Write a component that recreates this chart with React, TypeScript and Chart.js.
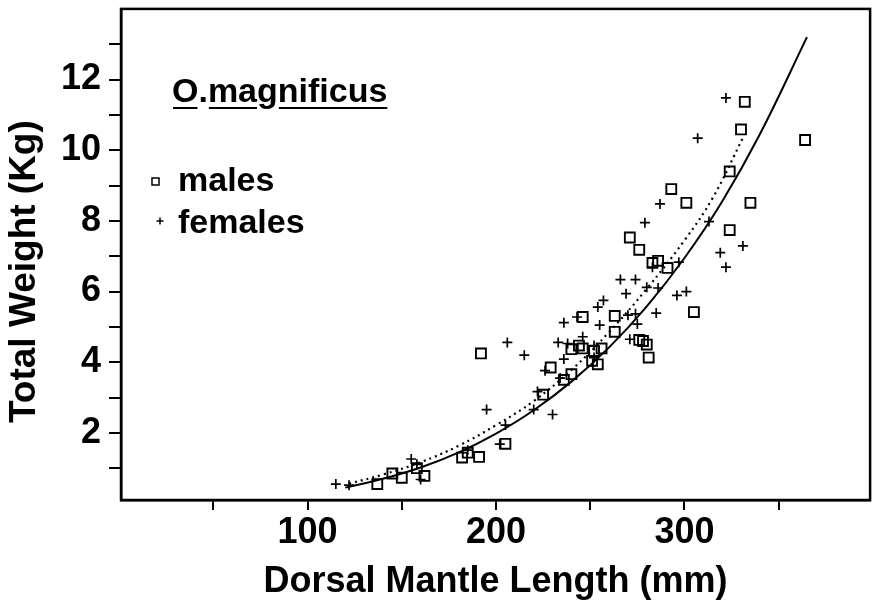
import React, { useEffect, useRef } from 'react';
import { Chart, registerables } from 'chart.js';

Chart.register(...registerables);

// ---- data ----
const maleLength = [137, 145, 150, 158, 162, 182, 185, 191, 205, 192, 225, 236, 229, 240, 240, 244, 246, 252, 256, 251, 254, 246, 263, 263, 276, 278, 280, 281, 271, 276, 283, 286, 291, 293, 301, 305, 324, 324, 330, 332, 335, 364];
const maleWeight = [0.55, 0.85, 0.73, 1.0, 0.78, 1.3, 1.44, 1.32, 1.69, 4.25, 3.08, 3.5, 3.85, 3.66, 4.37, 4.47, 4.39, 4.32, 4.39, 4.04, 3.94, 5.28, 4.86, 5.31, 4.63, 4.6, 4.5, 4.13, 7.53, 7.18, 6.81, 6.87, 6.67, 8.9, 8.51, 5.42, 9.4, 7.74, 10.59, 11.37, 8.51, 10.29];

const femaleLength = [115, 122, 155, 158, 160, 185, 195, 202, 205, 206, 215, 220, 222, 226, 230, 234, 236, 236, 233, 238, 243, 246, 252, 252, 254, 255, 257, 266, 269, 270, 271, 274, 274, 275, 279, 280, 283, 285, 286, 287, 296, 297, 301, 307, 313, 319, 322, 322, 331];
const femaleWeight = [0.55, 0.52, 1.26, 1.11, 0.68, 1.51, 2.66, 1.68, 2.22, 4.56, 4.2, 2.66, 3.17, 3.76, 2.52, 3.55, 4.09, 5.12, 4.56, 4.53, 5.28, 4.72, 4.47, 4.13, 5.56, 5.05, 5.75, 6.34, 5.94, 5.33, 4.65, 6.34, 5.37, 5.08, 7.95, 6.12, 6.69, 5.39, 6.1, 8.48, 5.89, 6.83, 6.0, 10.34, 7.98, 7.1, 6.69, 11.48, 7.29];

// fitted curves
const maleFitLength = [120, 140, 160, 180, 200, 220, 240, 260, 280, 300, 320, 340, 365];
const maleFitWeight = [0.45, 0.7, 1.02, 1.44, 1.98, 2.64, 3.45, 4.42, 5.58, 6.95, 8.55, 10.45, 13.2];

const femaleFitLength = [122, 140, 160, 180, 200, 220, 240, 260, 280, 300, 315, 331];
const femaleFitWeight = [0.56, 0.82, 1.17, 1.63, 2.22, 2.9, 3.78, 4.85, 6.08, 7.45, 8.65, 10.35];

const xTicks = [50, 100, 150, 200, 250, 300, 350];
const xTickLabels = [100, 200, 300];
const yTicks = [1, 2, 3, 4, 5, 6, 7, 8, 9, 10, 11, 12, 13];
const yTickLabels = [2, 4, 6, 8, 10, 12];

const xTitle = 'Dorsal Mantle Length (mm)';
const yTitle = 'Total Weight (Kg)';
const speciesName = 'O.magnificus';
const maleLabel = 'males';
const femaleLabel = 'females';

const FONT = '"Liberation Sans", Arial, Helvetica, sans-serif';

const toPoints = (xs: number[], ys: number[]) => xs.map((x, i) => ({ x, y: ys[i] }));

const decorPlugin = {
  id: 'decor',
  afterDraw(chart: any) {
    const { ctx, chartArea: a } = chart;
    ctx.save();
    // frame
    ctx.strokeStyle = '#000';
    ctx.lineWidth = 2.5;
    ctx.strokeRect(a.left, a.top, a.right - a.left, a.bottom - a.top);

    ctx.fillStyle = '#000';
    // x title
    ctx.font = `bold 36px ${FONT}`;
    ctx.textAlign = 'center';
    ctx.textBaseline = 'alphabetic';
    ctx.fillText(xTitle, (a.left + a.right) / 2, 592);

    // y title
    ctx.save();
    ctx.font = `bold 37px ${FONT}`;
    ctx.translate(35, 423);
    ctx.rotate(-Math.PI / 2);
    ctx.textAlign = 'left';
    ctx.fillText(yTitle, 0, 0);
    ctx.restore();

    // legend block
    ctx.textAlign = 'left';
    ctx.font = `bold 34px ${FONT}`;
    const tx = 172;
    const ty = 102;
    ctx.fillText(speciesName, tx, ty);
    const w = (s: string) => ctx.measureText(s).width;
    ctx.lineWidth = 2;
    ctx.beginPath();
    const uy = 108;
    ctx.moveTo(tx + 1, uy); ctx.lineTo(tx + w('O') - 1, uy);
    ctx.moveTo(tx + w('O.') + 1, uy); ctx.lineTo(tx + w('O.ma'), uy);
    ctx.moveTo(tx + w('O.mag') + 1, uy); ctx.lineTo(tx + w(speciesName), uy);
    ctx.stroke();

    ctx.font = `bold 34px ${FONT}`;
    ctx.fillText(maleLabel, 178, 191);
    ctx.fillText(femaleLabel, 178, 233);

    ctx.lineWidth = 1.5;
    ctx.strokeRect(152, 178, 7, 7);
    ctx.beginPath();
    ctx.moveTo(156.5, 221); ctx.lineTo(163.5, 221);
    ctx.moveTo(160, 217.5); ctx.lineTo(160, 224.5);
    ctx.stroke();
    ctx.restore();
  },
};

export default function App() {
  const ref = useRef<HTMLCanvasElement | null>(null);

  useEffect(() => {
    if (!ref.current) return;
    const chart = new Chart(ref.current, {
      type: 'scatter',
      data: {
        datasets: [
          {
            label: 'males fit',
            data: toPoints(maleFitLength, maleFitWeight),
            showLine: true,
            borderColor: '#000',
            borderWidth: 2,
            pointRadius: 0,
            tension: 0.4,
            fill: false,
          },
          {
            label: 'females fit',
            data: toPoints(femaleFitLength, femaleFitWeight),
            showLine: true,
            borderColor: '#000',
            borderWidth: 2.2,
            borderDash: [2, 4],
            pointRadius: 0,
            tension: 0.4,
            fill: false,
          },
          {
            label: maleLabel,
            data: toPoints(maleLength, maleWeight),
            pointStyle: 'rect',
            pointRadius: 7,
            pointBorderWidth: 1.9,
            borderColor: '#000',
            backgroundColor: 'rgba(0,0,0,0)',
            showLine: false,
          },
          {
            label: femaleLabel,
            data: toPoints(femaleLength, femaleWeight),
            pointStyle: 'cross',
            pointRadius: 5,
            pointBorderWidth: 1.7,
            borderColor: '#000',
            backgroundColor: '#000',
            showLine: false,
          },
        ],
      },
      options: {
        animation: false,
        responsive: true,
        maintainAspectRatio: false,
        layout: { padding: { top: 3, right: 6, left: 0, bottom: 0 } },
        plugins: { legend: { display: false }, tooltip: { enabled: false } },
        scales: {
          x: {
            type: 'linear',
            min: 1,
            max: 398.5,
            afterBuildTicks: (s: any) => { s.ticks = xTicks.map((v) => ({ value: v })); },
            afterFit: (s: any) => { s.height = 113; s.paddingLeft = 0; s.paddingRight = 0; },
            ticks: {
              autoSkip: false,
              maxRotation: 0,
              color: '#000',
              padding: 1,
              font: { family: FONT, size: 36, weight: 'bold' },
              callback: (v: any) => (xTickLabels.includes(Number(v)) ? String(v) : ''),
            },
            grid: { display: true, drawOnChartArea: false, drawTicks: true, tickLength: 10, color: '#000', lineWidth: 2 },
            border: { display: true, color: '#000', width: 2.5 },
          },
          y: {
            type: 'linear',
            min: 0.1,
            max: 14,
            afterBuildTicks: (s: any) => { s.ticks = yTicks.map((v) => ({ value: v })); },
            afterFit: (s: any) => { s.width = 121; s.paddingTop = 0; s.paddingBottom = 0; },
            ticks: {
              autoSkip: false,
              color: '#000',
              padding: 8,
              font: { family: FONT, size: 36, weight: 'bold' },
              callback: (v: any) => (yTickLabels.includes(Number(v)) ? String(v) : ''),
            },
            grid: { display: true, drawOnChartArea: false, drawTicks: true, tickLength: 12, color: '#000', lineWidth: 2 },
            border: { display: true, color: '#000', width: 2.5 },
          },
        },
      },
      plugins: [decorPlugin],
    } as any);
    return () => chart.destroy();
  }, []);

  return (
    <div style={{ position: 'absolute', left: 0, top: 0, width: 879, height: 613, background: '#fff' }}>
      <canvas ref={ref} />
    </div>
  );
}
